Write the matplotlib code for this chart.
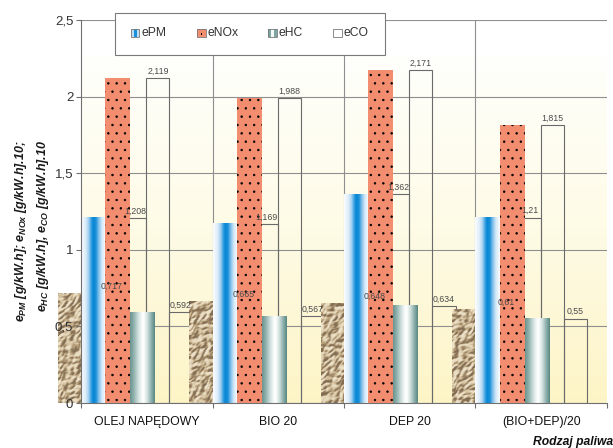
import numpy as np
import matplotlib
matplotlib.use("Agg")
import matplotlib.pyplot as plt
from matplotlib.colors import LinearSegmentedColormap
from matplotlib.patches import Rectangle

# ---- data -------------------------------------------------------------
fuels = ["OLEJ NAPĘDOWY", "BIO 20", "DEP 20", "(BIO+DEP)/20"]
legend_names = ["ePM", "eNOx", "eHC", "eCO"]
base_vals = [0.717, 0.665, 0.648, 0.61]      # textured bars
e_pm = [1.208, 1.169, 1.362, 1.21]           # blue bars
e_nox = [2.119, 1.988, 2.171, 1.815]         # dotted bars
e_hc = [0.592, 0.567, 0.634, 0.55]           # teal bars
y_ticks = [0, 0.5, 1, 1.5, 2, 2.5]
y_tick_labels = ["0", "0,5", "1", "1,5", "2", "2,5"]

plt.rcParams["font.family"] = ["Liberation Sans", "DejaVu Sans"]
plt.rcParams["mathtext.fontset"] = "custom"
plt.rcParams["mathtext.it"] = "Liberation Sans:italic:bold"
plt.rcParams["mathtext.rm"] = "Liberation Sans:bold"
plt.rcParams["mathtext.bf"] = "Liberation Sans:bold"
plt.rcParams["hatch.linewidth"] = 0.5

W, H = 613, 448
fig = plt.figure(figsize=(W / 100, H / 100), dpi=100)
ax = fig.add_axes([81 / W, 45 / H, 526 / W, 383 / H])
XL, YL = (-0.5, 3.5), (0, 2.5)
GRID = "#8f8f8f"


def fmt(v):
    return f"{v:g}".replace(".", ",")


def px(x, y):
    return x / W, 1 - y / H


# ---- background gradient ---------------------------------------------
bg_cmap = LinearSegmentedColormap.from_list("bg", ["#fdf4c6", "#fefbe6", "#fffffc"])
ax.imshow(np.linspace(0, 1, 256).reshape(-1, 1), extent=[XL[0], XL[1], 0, 2.26],
          origin="lower", aspect="auto", cmap=bg_cmap, zorder=0)

# ---- grid lines (behind bars), spines and ticks (in front) ------------
for yv in y_ticks[1:]:
    ax.axhline(yv, color=GRID, lw=0.8, zorder=0.5)
for b in (0.5, 1.5, 2.5):
    ax.axvline(b, color=GRID, lw=0.8, zorder=0.5)
ax.set_yticks(y_ticks)
ax.set_yticklabels(y_tick_labels)
ax.set_xticks(range(len(fuels)))
ax.set_xticklabels(fuels)
ax.set_xticks(np.arange(-0.5, len(fuels)), minor=True)
ax.tick_params(axis="x", which="major", length=0, pad=9.5, labelsize=8.8, labelcolor="#111111")
ax.tick_params(axis="x", which="minor", length=3.5, color="#707070", width=0.8)
ax.tick_params(axis="y", length=3.6, pad=2, color="#707070", width=0.8,
               labelsize=9.5, labelcolor="#333333")
for s in ("top", "right"):
    ax.spines[s].set_visible(False)
for s in ("left", "bottom"):
    ax.spines[s].set_color("#707070")
    ax.spines[s].set_linewidth(0.8)
    ax.spines[s].set_zorder(5)
ax.xaxis.set_zorder(5)
ax.yaxis.set_zorder(5)

idx = np.arange(len(fuels))
bounds = idx - 0.5

# ---- outlined (open) bars with value labels ---------------------------
open_w = 0.175
open_off = [0.149, 0.323, 0.498, 0.673]
for k, vals in enumerate([base_vals, e_pm, e_nox, e_hc]):
    xs = bounds + open_off[k]
    ax.bar(xs, vals, width=open_w, align="edge", facecolor="none",
           edgecolor="#6a6a6a", lw=0.8, zorder=1)
    for x0, v in zip(xs, vals):
        ax.annotate(fmt(v), (x0 + open_w / 2, v), xytext=(0, 1.8),
                    textcoords="offset points", ha="center", va="bottom",
                    fontsize=6.3, color="#4a4a4a", zorder=8)


# ---- filled bars --------------------------------------------------------
def fill_gradient(bars, stops, z=2):
    cmap = LinearSegmentedColormap.from_list("g", stops)
    row = np.linspace(0, 1, 64).reshape(1, -1)
    for p in bars:
        x0, w, h = p.get_x(), p.get_width(), p.get_height()
        im = ax.imshow(row, extent=[x0, x0 + w, 0, h], aspect="auto",
                       cmap=cmap, origin="lower", zorder=z, interpolation="bilinear")
        im.set_clip_on(False)


# crumpled-paper fill for the textured bars
tex_cmap = LinearSegmentedColormap.from_list(
    "tex", [(0.0, "#3f3223"), (0.25, "#74604a"), (0.5, "#b39b78"),
            (0.7, "#cdb995"), (0.88, "#e0d1b3"), (1.0, "#f0e6d2")])
waves = [(0.55, 19.0, 0.0, 1.0), (2.2, 25.0, 1.3, 0.9), (1.3, 14.0, 2.1, 0.6),
         (2.8, 31.0, 0.4, 0.8), (0.15, 12.0, 3.0, 0.45), (1.8, 9.5, 1.7, 0.35),
         (2.5, 7.0, 0.8, 0.2)]


def crumple(h, w, shift):
    yy, xx = np.mgrid[0:h, 0:w].astype(float)
    f = np.zeros((h, w))
    for k, (ang, period, ph, amp) in enumerate(waves):
        u = np.cos(ang) * xx + np.sin(ang) * yy
        v = -np.sin(ang) * xx + np.cos(ang) * yy
        u = u + 4.0 * np.sin(v / 5.0 + ph + shift) + 2.0 * np.sin(v / 2.3 + 2 * ph)
        f += amp * np.abs(np.sin(2 * np.pi * u / period + ph + shift * (k + 1)))
    gy, gx = np.gradient(f)
    light = 0.7 * gx - 0.7 * gy
    light = light / (np.std(light) + 1e-9)
    shade = 0.64 + 0.34 * np.tanh(1.2 * light)
    return tex_cmap(np.clip(shade, 0, 1))


tex_w = 0.175
tex_bars = ax.bar(bounds - tex_w, base_vals, width=tex_w, align="edge",
                  facecolor="none", lw=0, zorder=2)
for i, p in enumerate(tex_bars):
    x0, w, h = p.get_x(), p.get_width(), p.get_height()
    img = crumple(max(int(h * 153) + 1, 4), 23, i * 1.7 + 0.5)
    im = ax.imshow(img, extent=[x0, x0 + w, 0, h], aspect="auto", origin="lower",
                   zorder=2, interpolation="bilinear")
    im.set_clip_on(False)

slot = 0.183
pm_bars = ax.bar(bounds, e_pm, width=slot, align="edge", facecolor="none", lw=0, zorder=2)
fill_gradient(pm_bars, [(0.0, "#fbfdff"), (0.18, "#dcecf9"), (0.3, "#a6d0f1"),
                        (0.4, "#3fa4e3"), (0.48, "#0787d4"), (0.6, "#1890d9"),
                        (0.7, "#78bbe9"), (0.84, "#d2e8f7"), (1.0, "#fbfdff")])

ax.bar(bounds + slot, e_nox, width=0.19, align="edge", color="#f38d6f",
       edgecolor="black", lw=0, hatch="..", zorder=2)

hc_bars = ax.bar(bounds + slot + 0.19, e_hc, width=slot, align="edge",
                 facecolor="none", lw=0, zorder=2)
fill_gradient(hc_bars, [(0.0, "#6c958f"), (0.12, "#89aca8"), (0.3, "#c6d9d6"),
                        (0.45, "#f3f8f7"), (0.55, "#ffffff"), (0.7, "#d0e0dd"),
                        (0.86, "#8db0ac"), (1.0, "#5a8782")])

ax.set_xlim(*XL)
ax.set_ylim(*YL)

# ---- legend -----------------------------------------------------------
fig.add_artist(Rectangle(px(115, 55), 270 / W, 42 / H, transform=fig.transFigure,
                         facecolor="white", edgecolor="#7a7a7a", lw=0.8, zorder=10))
hx = [130.7, 197.3, 268.3, 333.3]
hy0, hs = 29.0, 8.5


def fig_rect(x, y, w, h, **kw):
    fig.add_artist(Rectangle(px(x, y + h), w / W, h / H, transform=fig.transFigure,
                             zorder=11, **kw))


fig_rect(hx[0], hy0, hs, hs, facecolor="#bcdcf5", lw=0)
fig_rect(hx[0] + 3.5, hy0, 3.0, hs, facecolor="#1a90da", lw=0)
fig_rect(hx[1], hy0, hs, hs, facecolor="#f38d6f", lw=0)
fig_rect(hx[1] + 3.5, hy0 + 4.5, 1.6, 1.6, facecolor="black", lw=0)
fig_rect(hx[2], hy0, hs, hs, facecolor="#7fa6a2", lw=0)
fig_rect(hx[2] + 2.8, hy0, 3.0, hs, facecolor="#f4f8f7", lw=0)
fig_rect(hx[3], hy0, hs, hs, facecolor="white", lw=0)
for x in hx:
    fig_rect(x, hy0, hs, hs, facecolor="none", edgecolor="#777777", lw=0.6)
for x, name in zip(hx, legend_names):
    fig.text(*px(x + 10.5, 32.5), name, ha="left", va="center", fontsize=8.7,
             color="#333333", zorder=12)

# ---- axis titles ------------------------------------------------------
fig.text(*px(21, 231), r"$e_{PM}$ [g/kW.h]; $e_{NOx}$ [g/kW.h].10;", rotation=90,
         ha="center", va="center", fontsize=9, fontweight="bold", fontstyle="italic",
         color="#1a1a1a")
fig.text(*px(43, 226), r"$e_{HC}$ [g/kW.h], $e_{CO}$ [g/kW.h].10", rotation=90,
         ha="center", va="center", fontsize=9, fontweight="bold", fontstyle="italic",
         color="#1a1a1a")
fig.text(*px(613, 442), "Rodzaj paliwa", ha="right", va="center", fontsize=8.7,
         fontweight="bold", fontstyle="italic", color="#111111")

fig.savefig("out.png", dpi=100)
